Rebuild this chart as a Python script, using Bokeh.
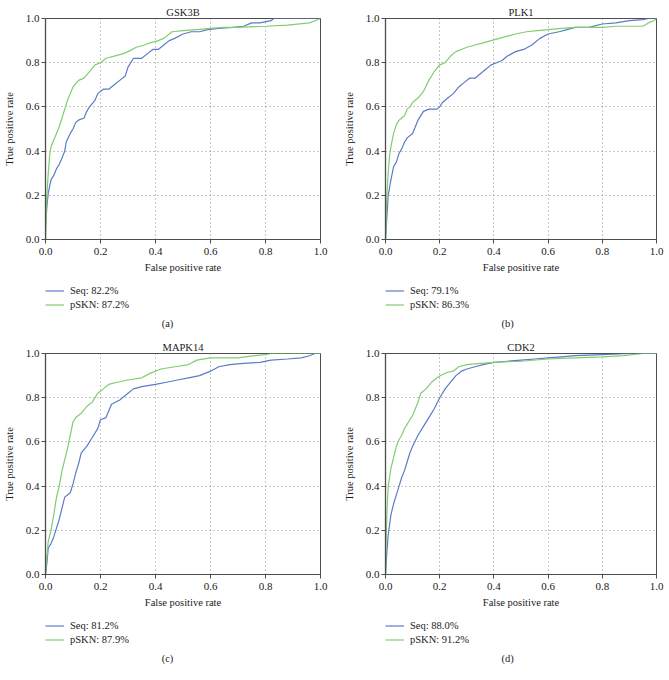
from bokeh.plotting import figure
from bokeh.layouts import column, row
from bokeh.models import Range1d, NumeralTickFormatter, Legend, LegendItem, Label
from bokeh.embed import file_html
from bokeh.resources import INLINE

FONT = "Liberation Serif"
BLUE = "#5a7cc6"
GREEN = "#82cc70"
AXIS_COLOR = "#4d4d4d"
TEXT_COLOR = "#1a1a1a"

# ---------------- data ----------------
panel_titles = ["GSK3B", "PLK1", "MAPK14", "CDK2"]
panel_captions = ["(a)", "(b)", "(c)", "(d)"]
series_names = ["Seq", "pSKN"]
seq_auc = [82.2, 79.1, 81.2, 88.0]
pskn_auc = [87.2, 86.3, 87.9, 91.2]
tick_values = [0.0, 0.2, 0.4, 0.6, 0.8, 1.0]

gsk3b_seq_fpr = [0, 0.0, 0.005, 0.01, 0.015, 0.02, 0.03, 0.04, 0.05, 0.057, 0.07, 0.075, 0.09, 0.1, 0.11,
                 0.12, 0.14, 0.15, 0.16, 0.18, 0.19, 0.21, 0.23, 0.25, 0.27, 0.29, 0.3, 0.31, 0.32, 0.35,
                 0.37, 0.39, 0.41, 0.43, 0.45, 0.47, 0.5, 0.53, 0.56, 0.59, 0.63, 0.68, 0.72, 0.75, 0.78,
                 0.82, 0.83, 1.0]
gsk3b_seq_tpr = [0, 0.05, 0.15, 0.21, 0.24, 0.27, 0.29, 0.32, 0.34, 0.36, 0.4, 0.44, 0.48, 0.5, 0.53,
                 0.54, 0.55, 0.58, 0.6, 0.63, 0.66, 0.68, 0.68, 0.7, 0.72, 0.74, 0.78, 0.8, 0.82, 0.82,
                 0.84, 0.86, 0.86, 0.88, 0.9, 0.91, 0.93, 0.94, 0.94, 0.95, 0.955, 0.96, 0.965, 0.98, 0.98,
                 0.99, 1.0, 1.0]
gsk3b_pskn_fpr = [0, 0.005, 0.01, 0.015, 0.02, 0.03, 0.04, 0.05, 0.06, 0.07, 0.08, 0.09, 0.1, 0.12,
                  0.14, 0.16, 0.18, 0.2, 0.22, 0.25, 0.28, 0.3, 0.33, 0.36, 0.38, 0.41, 0.43, 0.45, 0.46,
                  0.5, 0.55, 0.6, 0.65, 0.7, 0.8, 0.88, 0.96, 0.98, 1.0]
gsk3b_pskn_tpr = [0, 0.2, 0.3, 0.38, 0.42, 0.45, 0.48, 0.51, 0.55, 0.59, 0.63, 0.66, 0.69, 0.72,
                  0.73, 0.76, 0.79, 0.8, 0.82, 0.83, 0.84, 0.85, 0.87, 0.88, 0.89, 0.9, 0.91, 0.93, 0.94,
                  0.945, 0.95, 0.955, 0.96, 0.96, 0.965, 0.97, 0.98, 0.99, 1.0]

plk1_seq_fpr = [0, 0.005, 0.01, 0.02, 0.03, 0.04, 0.05, 0.06, 0.07, 0.08, 0.1, 0.11, 0.12, 0.14, 0.16,
                0.19, 0.2, 0.21, 0.23, 0.25, 0.27, 0.29, 0.31, 0.33, 0.35, 0.37, 0.39, 0.41, 0.43, 0.45,
                0.48, 0.51, 0.54, 0.57, 0.6, 0.64, 0.67, 0.7, 0.75, 0.8, 0.85, 0.9, 0.95, 0.97, 1.0]
plk1_seq_tpr = [0, 0.1, 0.2, 0.27, 0.33, 0.35, 0.39, 0.41, 0.44, 0.46, 0.48, 0.51, 0.54, 0.58, 0.59,
                0.59, 0.6, 0.62, 0.64, 0.66, 0.69, 0.71, 0.73, 0.73, 0.75, 0.77, 0.79, 0.8, 0.81, 0.83,
                0.85, 0.86, 0.88, 0.91, 0.93, 0.94, 0.95, 0.96, 0.96, 0.975, 0.98, 0.99, 0.995, 1.0, 1.0]
plk1_pskn_fpr = [0, 0.005, 0.01, 0.015, 0.02, 0.03, 0.04, 0.05, 0.06, 0.07, 0.08, 0.09, 0.1, 0.12,
                 0.14, 0.16, 0.18, 0.2, 0.22, 0.24, 0.26, 0.28, 0.3, 0.33, 0.36, 0.39, 0.42, 0.45, 0.48,
                 0.52, 0.56, 0.6, 0.65, 0.7, 0.75, 0.8, 0.85, 0.9, 0.95, 0.97, 0.99, 1.0]
plk1_pskn_tpr = [0, 0.2, 0.3, 0.38, 0.42, 0.48, 0.52, 0.54, 0.55, 0.56, 0.59, 0.6, 0.62, 0.64,
                 0.67, 0.72, 0.76, 0.79, 0.8, 0.83, 0.85, 0.86, 0.87, 0.88, 0.89, 0.9, 0.91, 0.92, 0.93,
                 0.94, 0.945, 0.95, 0.955, 0.96, 0.96, 0.96, 0.965, 0.965, 0.965, 0.98, 0.99, 1.0]

mapk14_seq_fpr = [0, 0.005, 0.01, 0.02, 0.03, 0.04, 0.05, 0.06, 0.07, 0.08, 0.09, 0.1, 0.11, 0.12,
                  0.13, 0.15, 0.17, 0.19, 0.2, 0.22, 0.24, 0.27, 0.3, 0.32, 0.35, 0.4, 0.44, 0.48, 0.52,
                  0.56, 0.6, 0.63, 0.67, 0.72, 0.78, 0.82, 0.88, 0.93, 0.96, 0.98, 1.0]
mapk14_seq_tpr = [0, 0.05, 0.12, 0.14, 0.17, 0.21, 0.25, 0.3, 0.35, 0.36, 0.37, 0.41, 0.46, 0.5,
                  0.55, 0.58, 0.62, 0.66, 0.7, 0.71, 0.77, 0.79, 0.82, 0.84, 0.85, 0.86, 0.87, 0.88, 0.89,
                  0.9, 0.92, 0.94, 0.95, 0.955, 0.96, 0.97, 0.975, 0.98, 0.99, 1.0, 1.0]
mapk14_pskn_fpr = [0, 0.005, 0.01, 0.02, 0.03, 0.04, 0.05, 0.06, 0.07, 0.08, 0.09, 0.1, 0.11, 0.13,
                   0.15, 0.17, 0.19, 0.21, 0.23, 0.26, 0.3, 0.35, 0.38, 0.42, 0.47, 0.52, 0.55, 0.6, 0.7,
                   0.76, 0.8, 0.82, 1.0]
mapk14_pskn_tpr = [0, 0.08, 0.15, 0.2, 0.27, 0.35, 0.4, 0.47, 0.52, 0.57, 0.63, 0.69, 0.71, 0.73,
                   0.76, 0.78, 0.82, 0.84, 0.86, 0.87, 0.88, 0.89, 0.91, 0.93, 0.94, 0.95, 0.97, 0.98, 0.98,
                   0.99, 0.995, 1.0, 1.0]

cdk2_seq_fpr = [0, 0.005, 0.01, 0.02, 0.03, 0.04, 0.05, 0.06, 0.07, 0.08, 0.09, 0.1, 0.12, 0.14, 0.16,
                0.18, 0.2, 0.22, 0.24, 0.26, 0.28, 0.3, 0.33, 0.36, 0.4, 0.45, 0.5, 0.55, 0.6, 0.65, 0.7,
                0.8, 0.9, 1.0]
cdk2_seq_tpr = [0, 0.1, 0.18, 0.27, 0.32, 0.36, 0.4, 0.44, 0.47, 0.51, 0.55, 0.58, 0.63, 0.67, 0.71,
                0.75, 0.8, 0.84, 0.87, 0.9, 0.92, 0.93, 0.94, 0.95, 0.96, 0.965, 0.97, 0.975, 0.98, 0.985,
                0.99, 0.995, 1.0, 1.0]
cdk2_pskn_fpr = [0, 0.003, 0.006, 0.01, 0.02, 0.03, 0.04, 0.05, 0.06, 0.07, 0.08, 0.09, 0.1, 0.11,
                 0.12, 0.13, 0.15, 0.17, 0.19, 0.21, 0.23, 0.25, 0.27, 0.3, 0.35, 0.4, 0.5, 0.6, 0.7, 0.8,
                 0.88, 0.95, 1.0]
cdk2_pskn_tpr = [0, 0.2, 0.3, 0.4, 0.48, 0.53, 0.58, 0.61, 0.63, 0.66, 0.68, 0.7, 0.72, 0.75,
                 0.78, 0.82, 0.84, 0.87, 0.89, 0.905, 0.915, 0.92, 0.94, 0.95, 0.955, 0.96, 0.965, 0.975,
                 0.98, 0.985, 0.99, 1.0, 1.0]

panel_data = [
    (gsk3b_seq_fpr, gsk3b_seq_tpr, gsk3b_pskn_fpr, gsk3b_pskn_tpr),
    (plk1_seq_fpr, plk1_seq_tpr, plk1_pskn_fpr, plk1_pskn_tpr),
    (mapk14_seq_fpr, mapk14_seq_tpr, mapk14_pskn_fpr, mapk14_pskn_tpr),
    (cdk2_seq_fpr, cdk2_seq_tpr, cdk2_pskn_fpr, cdk2_pskn_tpr),
]

AXIS_BORDER = 40   # space under the frame for the x axis


def make_panel(i, width, left, right, top, frame_h, footer_h):
    sx, sy, px, py = panel_data[i]
    p = figure(width=width, height=top + frame_h + AXIS_BORDER,
               x_range=Range1d(0, 1), y_range=Range1d(0, 1),
               output_backend="svg", toolbar_location=None,
               min_border_left=left, min_border_right=right,
               min_border_top=top, min_border_bottom=AXIS_BORDER,
               background_fill_color="white", border_fill_color="white")
    p.outline_line_color = AXIS_COLOR
    p.outline_line_width = 1

    p.title.text = panel_titles[i]
    p.title.align = "center"
    p.title.standoff = 2
    p.title.text_font = FONT
    p.title.text_font_size = "10.5px"
    p.title.text_font_style = "normal"
    p.title.text_color = TEXT_COLOR

    for ax in (p.xaxis[0], p.yaxis[0]):
        ax.ticker = tick_values
        ax.formatter = NumeralTickFormatter(format="0.0")
        ax.axis_line_color = AXIS_COLOR
        ax.major_tick_line_color = AXIS_COLOR
        ax.major_tick_out = 4
        ax.major_tick_in = 0
        ax.minor_tick_line_color = None
        ax.major_label_text_font = FONT
        ax.major_label_text_font_size = "11px"
        ax.major_label_text_color = TEXT_COLOR
        ax.axis_label_text_font = FONT
        ax.axis_label_text_font_size = "10.5px"
        ax.axis_label_text_font_style = "normal"
        ax.axis_label_text_color = TEXT_COLOR
    p.yaxis.axis_line_width = 1.3
    p.xaxis.axis_label = "False positive rate"
    p.yaxis.axis_label = "True positive rate"
    p.xaxis.major_label_standoff = 4
    p.xaxis.axis_label_standoff = 4
    p.yaxis.major_label_standoff = 2
    p.yaxis.axis_label_standoff = 8

    p.grid.grid_line_color = "#8c8c8c"
    p.grid.grid_line_dash = "1 3"
    p.grid.grid_line_width = 1

    p.line(sx, sy, line_color=BLUE, line_width=1.2)
    p.line(px, py, line_color=GREEN, line_width=1.2)

    # footer: legend + caption, in a frame aligned with the plot frame.
    # The same series are drawn there but fall outside its y range, so only
    # their legend samples are visible.
    f = figure(width=width, height=footer_h, x_range=Range1d(0, 1), y_range=Range1d(5, 6),
               x_axis_type=None, y_axis_type=None,
               output_backend="svg", toolbar_location=None,
               min_border_left=left, min_border_right=right,
               min_border_top=0, min_border_bottom=0,
               background_fill_color="white", border_fill_color="white")
    f.outline_line_color = None
    f.grid.visible = False
    k1 = f.line(sx, sy, line_color=BLUE, line_width=1.2)
    k2 = f.line(px, py, line_color=GREEN, line_width=1.2)
    legend_h = 27
    legend = Legend(items=[
        LegendItem(label=f"{series_names[0]}: {seq_auc[i]:.1f}%", renderers=[k1]),
        LegendItem(label=f"{series_names[1]}: {pskn_auc[i]:.1f}%", renderers=[k2]),
    ], location=(0, footer_h - 5 - legend_h), orientation="vertical",
        glyph_width=19, glyph_height=13, label_height=13, spacing=1,
        label_standoff=6, padding=0, margin=0,
        border_line_color=None, background_fill_alpha=0,
        label_text_font=FONT, label_text_font_size="10.5px", label_text_color=TEXT_COLOR)
    f.add_layout(legend, "center")
    f.add_layout(Label(x=122, y=footer_h - 44, x_units="screen", y_units="screen",
                       text=panel_captions[i], text_align="center", text_baseline="middle",
                       text_font=FONT, text_font_size="10.5px", text_color=TEXT_COLOR))
    return column(p, f)


pa = make_panel(0, 340, 44, 20, 18, 221, 59)
pb = make_panel(1, 329, 40, 13, 18, 221, 59)
pc = make_panel(2, 340, 44, 20, 14, 222, 66)
pd = make_panel(3, 329, 40, 13, 14, 222, 66)

layout = column(row(pa, pb), row(pc, pd))

with open("out.html", "w") as f:
    f.write(file_html(layout, INLINE))
